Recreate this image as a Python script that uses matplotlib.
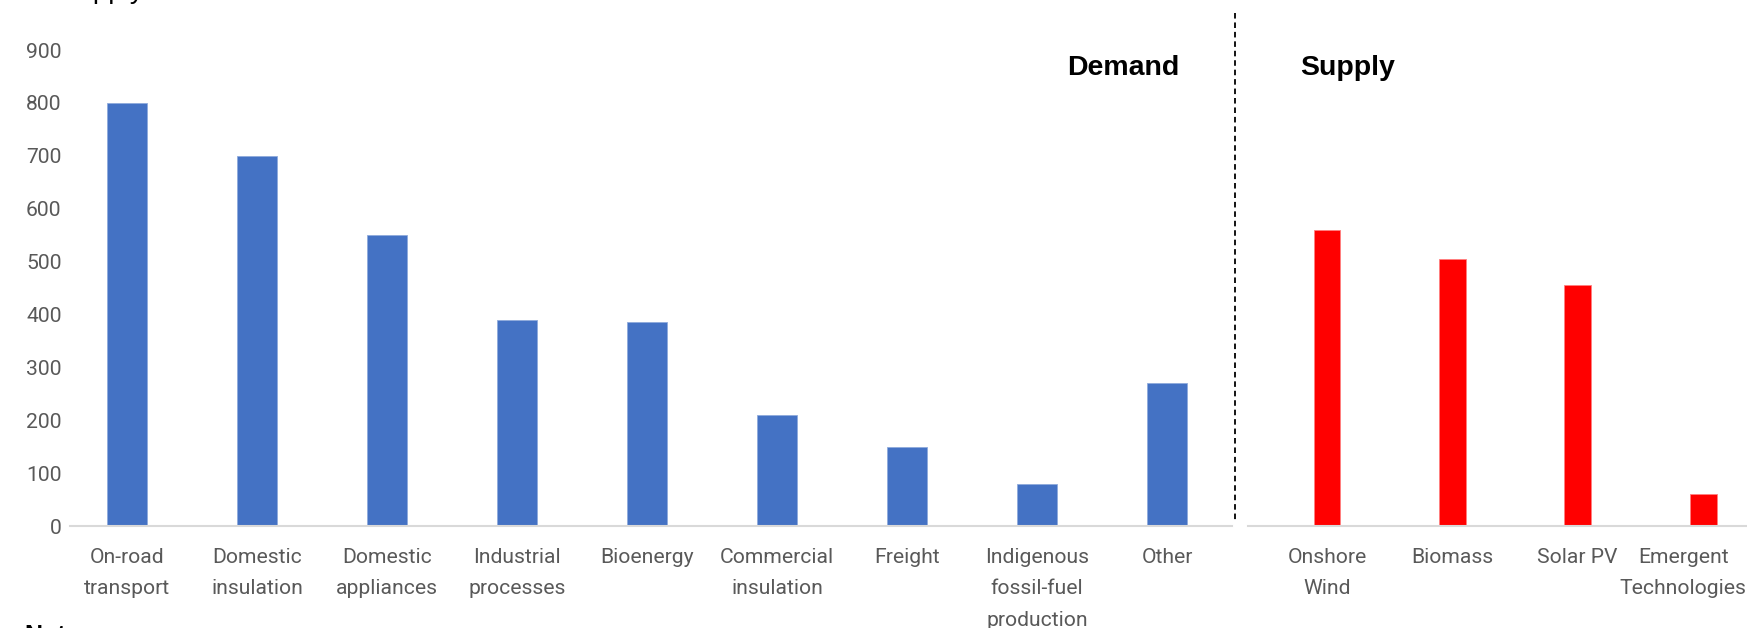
import matplotlib
matplotlib.use("Agg")
import matplotlib.pyplot as plt
from matplotlib.lines import Line2D
from matplotlib.transforms import ScaledTranslation

# Abatement contributions by sector
demand_labels = ["On-road\ntransport", "Domestic\ninsulation", "Domestic\nappliances",
                 "Industrial\nprocesses", "Bioenergy", "Commercial\ninsulation",
                 "Freight", "Indigenous\nfossil-fuel\nproduction", "Other"]
demand_values = [800, 700, 550, 390, 385, 210, 150, 80, 270]

supply_labels = ["Onshore\nWind", "Biomass", "Solar PV", "Emergent\nTechnologies"]
supply_values = [560, 505, 455, 60]

y_ticks = [0, 100, 200, 300, 400, 500, 600, 700, 800, 900]

W, H = 1747, 628
fig = plt.figure(figsize=(W / 100, H / 100), dpi=100)

BLUE = "#4472C4"
RED = "#FF0000"
TICK_COLOR = "#595959"
AXIS_COLOR = "#D9D9D9"
tick_font = dict(family="Roboto", size=15.2, color=TICK_COLOR)

y_bottom, y_top = 526, 50


def frac_box(x0, x1):
    return [x0 / W, 1 - y_bottom / H, (x1 - x0) / W, (y_bottom - y_top) / H]


def style(ax):
    for side in ("top", "right", "left"):
        ax.spines[side].set_visible(False)
    ax.spines["bottom"].set_color(AXIS_COLOR)
    ax.spines["bottom"].set_linewidth(1.5)
    ax.tick_params(axis="both", length=0)
    ax.tick_params(axis="x", pad=15.5)
    ax.set_ylim(0, 900)
    ax.set_facecolor("none")


# Demand panel
ax1 = fig.add_axes(frac_box(70, 1232))
style(ax1)
x1 = list(range(len(demand_values)))
ax1.bar(x1, demand_values, width=0.31, color=BLUE, edgecolor="#8FAADC", linewidth=0.6)
ax1.set_xlim(-0.44, 8.5)
ax1.set_xticks(x1)
ax1.set_xticklabels(demand_labels, linespacing=1.86, **tick_font)
ax1.set_yticks(y_ticks)
ax1.set_yticklabels([str(v) for v in y_ticks], **tick_font)
ax1.tick_params(axis="y", pad=6)

# Supply panel
ax2 = fig.add_axes(frac_box(1248, 1747))
style(ax2)
x2 = list(range(len(supply_values)))
ax2.bar(x2, supply_values, width=0.215, color=RED, edgecolor="#FF8080", linewidth=0.6)
ax2.set_xlim(-0.63, 3.35)
ax2.set_xticks(x2)
ax2.set_xticklabels(supply_labels, linespacing=1.86, **tick_font)
ax2.set_yticks([])

# Keep the last supply label inside the canvas
last = ax2.get_xticklabels()[-1]
last.set_transform(last.get_transform() + ScaledTranslation(-20 / 100, 0, fig.dpi_scale_trans))

# Divider between demand and supply
plt.rcParams["lines.scale_dashes"] = False
div = Line2D([1235 / W, 1235 / W], [1 - 13 / H, 1 - 522 / H], transform=fig.transFigure,
             color="black", linewidth=1.3, linestyle=(0, (4.0, 2.8)))
fig.add_artist(div)

head_font = dict(family="Liberation Sans", weight="bold", size=20.5, color="black")
fig.text(1123 / W, 1 - 68 / H, "Demand", ha="center", va="center", **head_font)
fig.text(1300 / W, 1 - 68 / H, "Supply", ha="left", va="center", **head_font)

# Edges of the surrounding title and notes
fig.text(60 / W, 1 + 2 / H, "Supply", ha="left", va="baseline",
         family="Liberation Sans", size=20, color="black")
fig.text(24 / W, 1 - 624 / H, "Notes", ha="left", va="top",
         family="Liberation Sans", weight="bold", size=18, color="black")

fig.savefig("out.png", dpi=100, facecolor="white")
